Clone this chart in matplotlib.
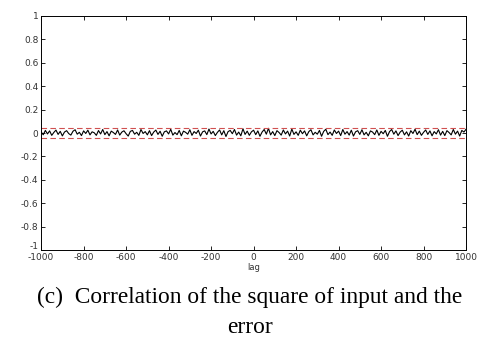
import matplotlib.pyplot as plt
import matplotlib.transforms as mtransforms
import numpy as np

plt.rcParams["axes.unicode_minus"] = False

# cross-correlation of squared input and error, sampled every 10 lags
lags = np.arange(-1000, 1001, 10)
corr = [
    0.010, -0.015, 0.022, -0.008, 0.018, -0.020, 0.005, 0.025, -0.012, 0.014,
    -0.025, 0.008, 0.020, -0.005, -0.018, 0.015, 0.028, -0.010, 0.006, -0.022,
    0.018, -0.004, 0.024, -0.016, 0.010, 0.002, -0.020, 0.021, -0.008, 0.030,
    -0.014, 0.012, -0.024, 0.016, 0.004, -0.012, 0.026, -0.018, 0.008, 0.019,
    -0.006, -0.026, 0.014, 0.022, -0.010, 0.006, -0.020, 0.030, -0.004, 0.012,
    -0.016, 0.020, -0.022, 0.008, 0.025, -0.012, 0.015, -0.028, 0.010, 0.018,
    -0.008, 0.032, -0.018, 0.004, -0.014, 0.022, -0.024, 0.016, 0.006, -0.010,
    0.028, -0.020, 0.012, -0.004, 0.024, -0.026, 0.010, 0.018, -0.014, 0.034,
    -0.008, 0.014, -0.022, 0.006, 0.026, -0.016, 0.020, -0.030, 0.012, 0.022,
    -0.006, 0.030, -0.018, 0.008, -0.024, 0.036, -0.012, 0.016, -0.020, 0.010,
    0.024, -0.014, 0.018, -0.028, 0.008, 0.030, -0.010, 0.040, -0.016, 0.012,
    -0.022, 0.020, 0.004, -0.018, 0.026, -0.008, 0.016, -0.026, 0.034, -0.012,
    0.010, -0.020, 0.024, -0.006, 0.018, -0.024, 0.012, 0.028, -0.016, 0.006,
    -0.010, 0.022, -0.028, 0.014, 0.032, -0.014, 0.008, -0.020, 0.026, -0.004,
    0.016, -0.022, 0.030, -0.010, 0.012, -0.018, 0.024, -0.026, 0.010, 0.020,
    -0.012, 0.028, -0.016, 0.006, -0.024, 0.018, 0.008, -0.014, 0.026, -0.020,
    0.014, -0.006, 0.022, -0.028, 0.012, 0.030, -0.010, 0.018, -0.022, 0.008,
    0.024, -0.016, 0.010, -0.026, 0.020, -0.004, 0.032, -0.014, 0.016, -0.020,
    0.006, 0.026, -0.012, 0.018, -0.024, 0.012, -0.008, 0.028, -0.018, 0.014,
    -0.022, 0.020, 0.004, -0.016, 0.030, -0.010, 0.016, -0.026, 0.022, 0.008,
    0.032,
]
bound = 0.045

xticks = list(range(-1000, 1001, 200))
yticks = [-1, -0.8, -0.6, -0.4, -0.2, 0, 0.2, 0.4, 0.6, 0.8, 1]
ylabels = ["-1", "-0.8", "-0.6", "-0.4", "-0.2", "0", "0.2", "0.4", "0.6", "0.8", "1"]

fig = plt.figure(figsize=(4.78, 3.38), dpi=100)
ax = fig.add_axes([0.086, 0.26, 0.889, 0.693])

ax.plot(lags, corr, color="black", linewidth=0.8)
ax.axhline(bound, color="#d05050", linestyle="--", linewidth=0.8, dashes=(5, 3))
ax.axhline(-bound, color="#d05050", linestyle="--", linewidth=0.8, dashes=(5, 3))

ax.set_xlim(-1000, 1000)
ax.set_ylim(-1, 1)
ax.set_xticks(xticks)
ax.set_yticks(yticks)
ax.set_yticklabels(ylabels)
ax.tick_params(direction="in", top=True, right=True, labelsize=6.5,
               length=3, width=0.6, labelcolor="#333333", pad=2)
for s in ax.spines.values():
    s.set_linewidth(0.7)
ax.set_xlabel("lag", fontsize=6, labelpad=1, color="#333333")

# lift the bottom y label a little so it clears -1000
lbl = ax.get_yticklabels()[0]
lbl.set_transform(lbl.get_transform() +
                  mtransforms.ScaledTranslation(0, 3 / 72, fig.dpi_scale_trans))

fig.text(0.523, 0.121, "(c)  Correlation of the square of input and the",
         ha="center", va="center", fontsize=16.8, family="Liberation Serif")
fig.text(0.523, 0.03, "error", ha="center", va="center",
         fontsize=16.8, family="Liberation Serif")

fig.savefig("out.png", dpi=100)
